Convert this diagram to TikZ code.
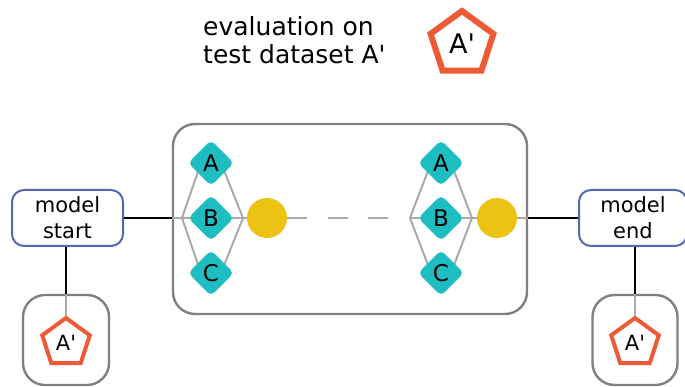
\documentclass[tikz,border=0pt]{standalone}
\usepackage{fontspec}
\setmainfont{DejaVu Sans}[Ligatures=TeXOff]
\usetikzlibrary{positioning,shapes.geometric,backgrounds,calc}

\definecolor{teal1}{HTML}{1EBDC2}
\definecolor{gold1}{HTML}{ECC213}
\definecolor{coral1}{HTML}{EE5A35}
\definecolor{blue1}{HTML}{5468B0}
\definecolor{box1}{HTML}{808080}
\definecolor{wire1}{HTML}{AAAAAA}

\begin{document}
\begin{tikzpicture}[x=1pt, y=-1pt, node distance=55pt, on grid,
	txt/.style={font=\fontsize{21}{26}\selectfont},
	lib/.style={diamond, fill=teal1, inner sep=0pt, minimum width=46pt, minimum height=46pt, rounded corners=5pt, font=\fontsize{23}{26}\selectfont},
	merge/.style={circle, fill=gold1, inner sep=0pt, minimum size=40pt},
	model/.style={draw=blue1, line width=2pt, rounded corners=12pt, align=center, inner sep=0pt, txt},
	frame/.style={draw=box1, line width=2.4pt, rounded corners=22pt},
	testset/.style={regular polygon, regular polygon sides=5, draw=coral1, fill=white, line width=4pt, inner sep=0pt, minimum size=50pt, txt},
	wire/.style={draw=wire1, line width=2pt},
	link/.style={draw=black, line width=2pt}]
	\useasboundingbox (0,0) rectangle (685,387);

	% legend
	\node[anchor=west, inner sep=0pt, align=left, font=\fontsize{25}{28}\selectfont] (legend) at (203,40.5) {evaluation on\\test dataset A'};
	\node[testset, line width=6pt, minimum size=66pt, font=\fontsize{27}{30}\selectfont] (pTop) at (462,44) {A'};

	% training stages
	\node[frame, minimum width=354pt, minimum height=190pt] (stage) at (350,219) {};

	\node[lib] (lB) at (211,218) {B};
	\node[lib] (lA) [above=of lB] {A};
	\node[lib] (lC) [below=of lB] {C};
	\node[merge] (lY) at (267,218) {};
	\coordinate (lin)  at (182,218);
	\coordinate (lout) at (243,218);

	\node[lib] (rB) at (441,218) {B};
	\node[lib] (rA) [above=of rB] {A};
	\node[lib] (rC) [below=of rB] {C};
	\node[merge] (rY) at (497,218) {};
	\coordinate (rin)  at (410,218);
	\coordinate (rout) at (472,218);

	% model ends
	\node[model, minimum width=111pt, minimum height=56pt] (mStart) at (67.5,218) {model\\start};
	\node[model, minimum width=108pt, minimum height=56pt] (mEnd) at (633,218) {model\\end};

	\node[frame, minimum width=86pt, minimum height=90pt] (evalL) at (66,340) {};
	\node[frame, minimum width=85pt, minimum height=90pt] (evalR) at (635,340) {};
	\node[testset] (pL) at (66,343) {A'};
	\node[testset] (pR) at (635,343) {A'};

	\begin{scope}[on background layer]
		\foreach \s in {l,r} {
			\draw[wire] (\s in) -- ($(\s A)+(-10,0)$);
			\draw[wire] (\s in) -- ($(\s C)+(-10,0)$);
			\draw[wire] (\s in) -- (\s out);
			\draw[wire] ($(\s A)+(10,0)$) -- (\s out);
			\draw[wire] ($(\s C)+(10,0)$) -- (\s out);
			\draw[wire] (\s out) -- (\s Y);
		}
	\end{scope}
	\draw[wire] (lin -| stage.west) -- (lin);
	\draw[wire, dash pattern=on 20pt off 20.5pt] (lY.east) -- (rin);
	\draw[wire] (rY.east) -- (rY -| stage.east);

	\draw[link] (mStart.east) -- (mStart.east -| stage.west);
	\draw[link] (mEnd.west -| stage.east) -- (mEnd.west);
	\draw[link] (mStart.south -| evalL.north) -- (evalL.north);
	\draw[link] (mEnd.south -| evalR.north) -- (evalR.north);
	\draw[wire] (evalL.north) -- (pL.corner 1);
	\draw[wire] (evalR.north) -- (pR.corner 1);
\end{tikzpicture}
\end{document}
